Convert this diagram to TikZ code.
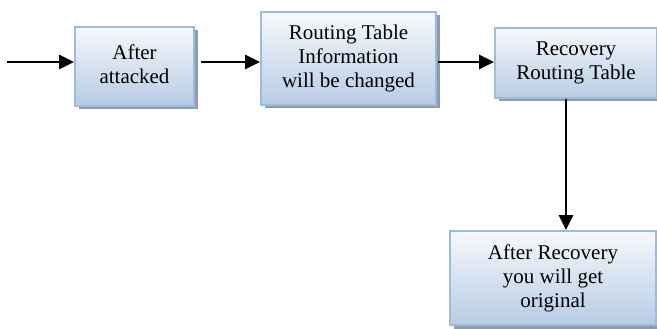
\documentclass[tikz,border=0pt]{standalone}
\usepackage{fontspec}
\setmainfont{Liberation Serif}
\usetikzlibrary{arrows.meta,shadows}
\definecolor{bordc}{HTML}{9DBBDB}
\definecolor{topc}{HTML}{F7F9FC}
\definecolor{botc}{HTML}{B7CBE4}
\definecolor{shadc}{HTML}{8E9CAE}
\tikzset{
  box/.style={draw=bordc, line width=2pt, top color=topc, bottom color=botc,
    align=center, inner sep=0pt, font=\fontsize{21}{24}\selectfont,
    drop shadow={shadow xshift=3.5pt, shadow yshift=-3.5pt, fill=shadc, opacity=1}},
  arr/.style={line width=2.8pt, -{Triangle[length=15pt,width=14pt]}}
}
\begin{document}
\begin{tikzpicture}[x=1pt,y=-1pt]
\useasboundingbox (0,0) rectangle (657,329);
\node[box, minimum width=119pt, minimum height=79pt] (b1) at (134.5,66.5) {After\\attacked\vphantom{g}};
\node[box, minimum width=175pt, minimum height=93pt] (b2) at (348.5,58.5) {Routing Table\\Information\\will be changed};
\node[box, minimum width=162pt, minimum height=70pt] (b3) at (576,63) {Recovery\\Routing Table};
\node[box, minimum width=206pt, minimum height=94pt] (b4) at (553,278) {After Recovery\\you will get\\original};
\coordinate (s) at (7,62);
\coordinate (a2) at (201,62);
\coordinate (a3) at (438,62);
\coordinate (v) at (566,99);
\draw[arr] (s) -- (s -| b1.west);
\draw[arr] (a2) -- (a2 -| b2.west);
\draw[arr] (a3) -- (a3 -| b3.west);
\draw[arr] (v) -- (v |- b4.north);
\end{tikzpicture}
\end{document}
